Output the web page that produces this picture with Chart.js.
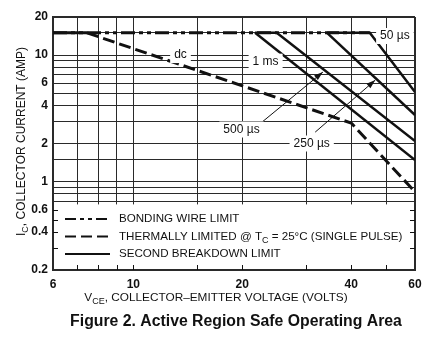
<!DOCTYPE html>
<html>
<head>
<meta charset="utf-8">
<script src="https://cdn.jsdelivr.net/npm/chart.js@4.4.0/dist/chart.umd.min.js"></script>
<style>
  html, body { margin: 0; padding: 0; background: #fff; }
</style>
</head>
<body>
<canvas id="soa" width="443" height="342"></canvas>
<script>
// axis ticks (VCE in volts, IC in amps)
const xGrid = [6, 7, 8, 9, 10, 15, 20, 30, 40, 50, 60];
const xLabels = [6, 10, 20, 40, 60];
const yGrid = [0.2, 0.3, 0.4, 0.5, 0.6, 0.7, 0.8, 0.9, 1, 1.5, 2, 3, 4, 5, 6, 7, 8, 9, 10, 15, 20];
const yLabels = [0.2, 0.4, 0.6, 1, 2, 4, 6, 10, 20];

// curves
const bondingV = [6, 45];
const bondingI = [15, 15];
const dcV = [6, 7.45, 40, 60];
const dcI = [15, 15, 2.9, 0.83];
const ms1V = [21.7, 60];
const ms1I = [15, 1.48];
const us500V = [21.7, 24.9, 60];
const us500I = [15, 15, 2.09];
const us250V = [34.3, 60];
const us250I = [15, 3.36];
const us50V = [34.3, 45, 60];
const us50I = [15, 15, 5.1];

const pts = (xs, ys) => xs.map((x, i) => ({ x: x, y: ys[i] }));

const FONT = '"Liberation Sans", Arial, Helvetica, sans-serif';
const INK = '#111';

function line(label, xs, ys, width, dash) {
    return {
        label: label,
        data: pts(xs, ys),
        borderColor: INK,
        borderWidth: width,
        borderDash: dash || [],
        pointRadius: 0,
        tension: 0,
        fill: false
    };
}

const dcSet = line('dc', dcV, dcI, 3, []);
dcSet.segment = { borderDash: ctx => ctx.p0DataIndex === 0 ? [] : [12, 5] };

const datasets = [
    line('Bonding wire limit', bondingV, bondingI, 3, [14, 4, 4, 4, 4, 4]),
    dcSet,
    line('1 ms', ms1V, ms1I, 2.5),
    line('500 µs', us500V, us500I, 2.5),
    line('250 µs', us250V, us250I, 2.5),
    line('50 µs', us50V, us50I, 2.5)
];

// draw text with subscripts, parts = [[text, isSub], ...]
function drawParts(ctx, parts, x, y, size) {
    const subSize = Math.round(size * 0.75);
    let total = 0;
    parts.forEach(p => {
        ctx.font = (p[1] ? subSize : size) + 'px ' + FONT;
        total += ctx.measureText(p[0]).width;
    });
    let cx = x - total / 2;
    ctx.textAlign = 'left';
    ctx.textBaseline = 'middle';
    parts.forEach(p => {
        ctx.font = (p[1] ? subSize : size) + 'px ' + FONT;
        ctx.fillText(p[0], cx, p[1] ? y + 4 : y);
        cx += ctx.measureText(p[0]).width;
    });
}

const soaPlugin = {
    id: 'soa',
    beforeDatasetsDraw(chart) {
        const { ctx, chartArea: a, scales } = chart;
        const top = scales.y.getPixelForValue(0.66);
        ctx.save();
        // legend box covers the grid below 0.7 A
        ctx.fillStyle = '#fff';
        ctx.fillRect(a.left + 1, top, a.right - a.left - 2, a.bottom - top - 1);
        // inward tick marks in the legend area
        ctx.strokeStyle = INK;
        ctx.lineWidth = 1;
        ctx.beginPath();
        [0.3, 0.4, 0.5, 0.6].forEach(v => {
            const py = Math.round(scales.y.getPixelForValue(v)) + 0.5;
            ctx.moveTo(a.left, py); ctx.lineTo(a.left + 5, py);
            ctx.moveTo(a.right, py); ctx.lineTo(a.right - 5, py);
        });
        xGrid.slice(1, -1).forEach(v => {
            const px = Math.round(scales.x.getPixelForValue(v)) + 0.5;
            ctx.moveTo(px, a.bottom); ctx.lineTo(px, a.bottom - 5);
        });
        ctx.stroke();

        // legend entries
        const rows = [
            { y: 219, dash: [11, 4, 4, 4, 4, 4], parts: [['BONDING WIRE LIMIT', false]] },
            { y: 236.5, dash: [11, 5], parts: [['THERMALLY LIMITED @ T', false], ['C', true], [' = 25°C (SINGLE PULSE)', false]] },
            { y: 254, dash: [], parts: [['SECOND BREAKDOWN LIMIT', false]] }
        ];
        rows.forEach(r => {
            ctx.setLineDash(r.dash);
            ctx.lineWidth = 2;
            ctx.beginPath();
            ctx.moveTo(a.left + 12, r.y);
            ctx.lineTo(a.left + 57, r.y);
            ctx.stroke();
            ctx.setLineDash([]);
            ctx.fillStyle = INK;
            let cx = a.left + 66;
            ctx.textAlign = 'left';
            ctx.textBaseline = 'middle';
            r.parts.forEach(p => {
                ctx.font = (p[1] ? 9 : 11.6) + 'px ' + FONT;
                ctx.fillText(p[0], cx, p[1] ? r.y + 4 : r.y);
                cx += ctx.measureText(p[0]).width;
            });
        });
        ctx.restore();
    },
    afterDatasetsDraw(chart) {
        const { ctx, scales } = chart;
        const labels = [
            { text: 'dc', x: 13.5, y: 10 },
            { text: '1 ms', x: 23.2, y: 8.87 },
            { text: '500 µs', x: 19.9, y: 2.58 },
            { text: '250 µs', x: 31.1, y: 2.0 },
            { text: '50 µs', x: 52.8, y: 14.15 }
        ];
        const arrows = [
            { from: [22.7, 2.96], to: [33.4, 7.34] },
            { from: [31.8, 2.46], to: [46.6, 6.34] }
        ];
        ctx.save();
        ctx.strokeStyle = INK;
        ctx.fillStyle = INK;
        ctx.lineWidth = 1;
        arrows.forEach(ar => {
            const x0 = scales.x.getPixelForValue(ar.from[0]);
            const y0 = scales.y.getPixelForValue(ar.from[1]);
            const x1 = scales.x.getPixelForValue(ar.to[0]);
            const y1 = scales.y.getPixelForValue(ar.to[1]);
            const ang = Math.atan2(y1 - y0, x1 - x0);
            ctx.beginPath();
            ctx.moveTo(x0, y0);
            ctx.lineTo(x1, y1);
            ctx.stroke();
            ctx.beginPath();
            ctx.moveTo(x1, y1);
            ctx.lineTo(x1 - 9 * Math.cos(ang) + 3 * Math.sin(ang), y1 - 9 * Math.sin(ang) - 3 * Math.cos(ang));
            ctx.lineTo(x1 - 9 * Math.cos(ang) - 3 * Math.sin(ang), y1 - 9 * Math.sin(ang) + 3 * Math.cos(ang));
            ctx.closePath();
            ctx.fill();
        });
        ctx.font = '12px ' + FONT;
        ctx.textAlign = 'center';
        ctx.textBaseline = 'middle';
        labels.forEach(l => {
            const px = scales.x.getPixelForValue(l.x);
            const py = scales.y.getPixelForValue(l.y);
            const w = ctx.measureText(l.text).width;
            ctx.fillStyle = '#fff';
            ctx.fillRect(px - w / 2 - 4, py - 8, w + 8, 16);
            ctx.fillStyle = INK;
            ctx.fillText(l.text, px, py);
        });
        ctx.restore();
    },
    afterDraw(chart) {
        const { ctx, chartArea: a } = chart;
        ctx.save();
        ctx.fillStyle = INK;
        drawParts(ctx, [['V', false], ['CE', true], [', COLLECTOR–EMITTER VOLTAGE (VOLTS)', false]], 216, 298, 11.8);
        ctx.translate(22, (a.top + a.bottom) / 2 - 2);
        ctx.rotate(-Math.PI / 2);
        drawParts(ctx, [['I', false], ['C', true], [', COLLECTOR CURRENT (AMP)', false]], 0, 0, 12);
        ctx.restore();
        ctx.save();
        ctx.fillStyle = INK;
        ctx.font = 'bold 15.8px ' + FONT;
        ctx.textAlign = 'center';
        ctx.textBaseline = 'middle';
        ctx.fillText('Figure 2. Active Region Safe Operating Area', 236, 322);
        ctx.restore();
    }
};

const edgeWidth = (vals) => ctx => {
    const v = ctx.tick && ctx.tick.value;
    return (v === vals[0] || v === vals[vals.length - 1]) ? 2 : 1;
};

new Chart(document.getElementById('soa'), {
    type: 'line',
    data: { datasets: datasets },
    options: {
        responsive: false,
        animation: false,
        parsing: true,
        layout: { padding: { top: 17, right: 28, left: 0, bottom: 0 } },
        plugins: { legend: { display: false }, tooltip: { enabled: false } },
        scales: {
            x: {
                type: 'logarithmic',
                min: 6,
                max: 60,
                afterBuildTicks: s => { s.ticks = xGrid.map(v => ({ value: v })); },
                afterFit: s => { s.height = 72; },
                grid: { color: '#2a2a2a', lineWidth: edgeWidth(xGrid), drawTicks: false },
                border: { color: '#2a2a2a', width: 2 },
                ticks: {
                    autoSkip: false,
                    maxRotation: 0,
                    padding: 7,
                    color: INK,
                    font: { family: FONT, size: 12, weight: 'bold' },
                    callback: v => xLabels.includes(v) ? String(v) : ''
                }
            },
            y: {
                type: 'logarithmic',
                min: 0.2,
                max: 20,
                afterBuildTicks: s => { s.ticks = yGrid.map(v => ({ value: v })); },
                afterFit: s => { s.width = 53; },
                grid: { color: '#2a2a2a', lineWidth: edgeWidth(yGrid), drawTicks: false },
                border: { color: '#2a2a2a', width: 2 },
                ticks: {
                    autoSkip: false,
                    padding: 5,
                    color: INK,
                    font: { family: FONT, size: 12, weight: 'bold' },
                    callback: v => yLabels.includes(v) ? String(v) : ''
                }
            }
        }
    },
    plugins: [soaPlugin]
});
</script>
</body>
</html>
